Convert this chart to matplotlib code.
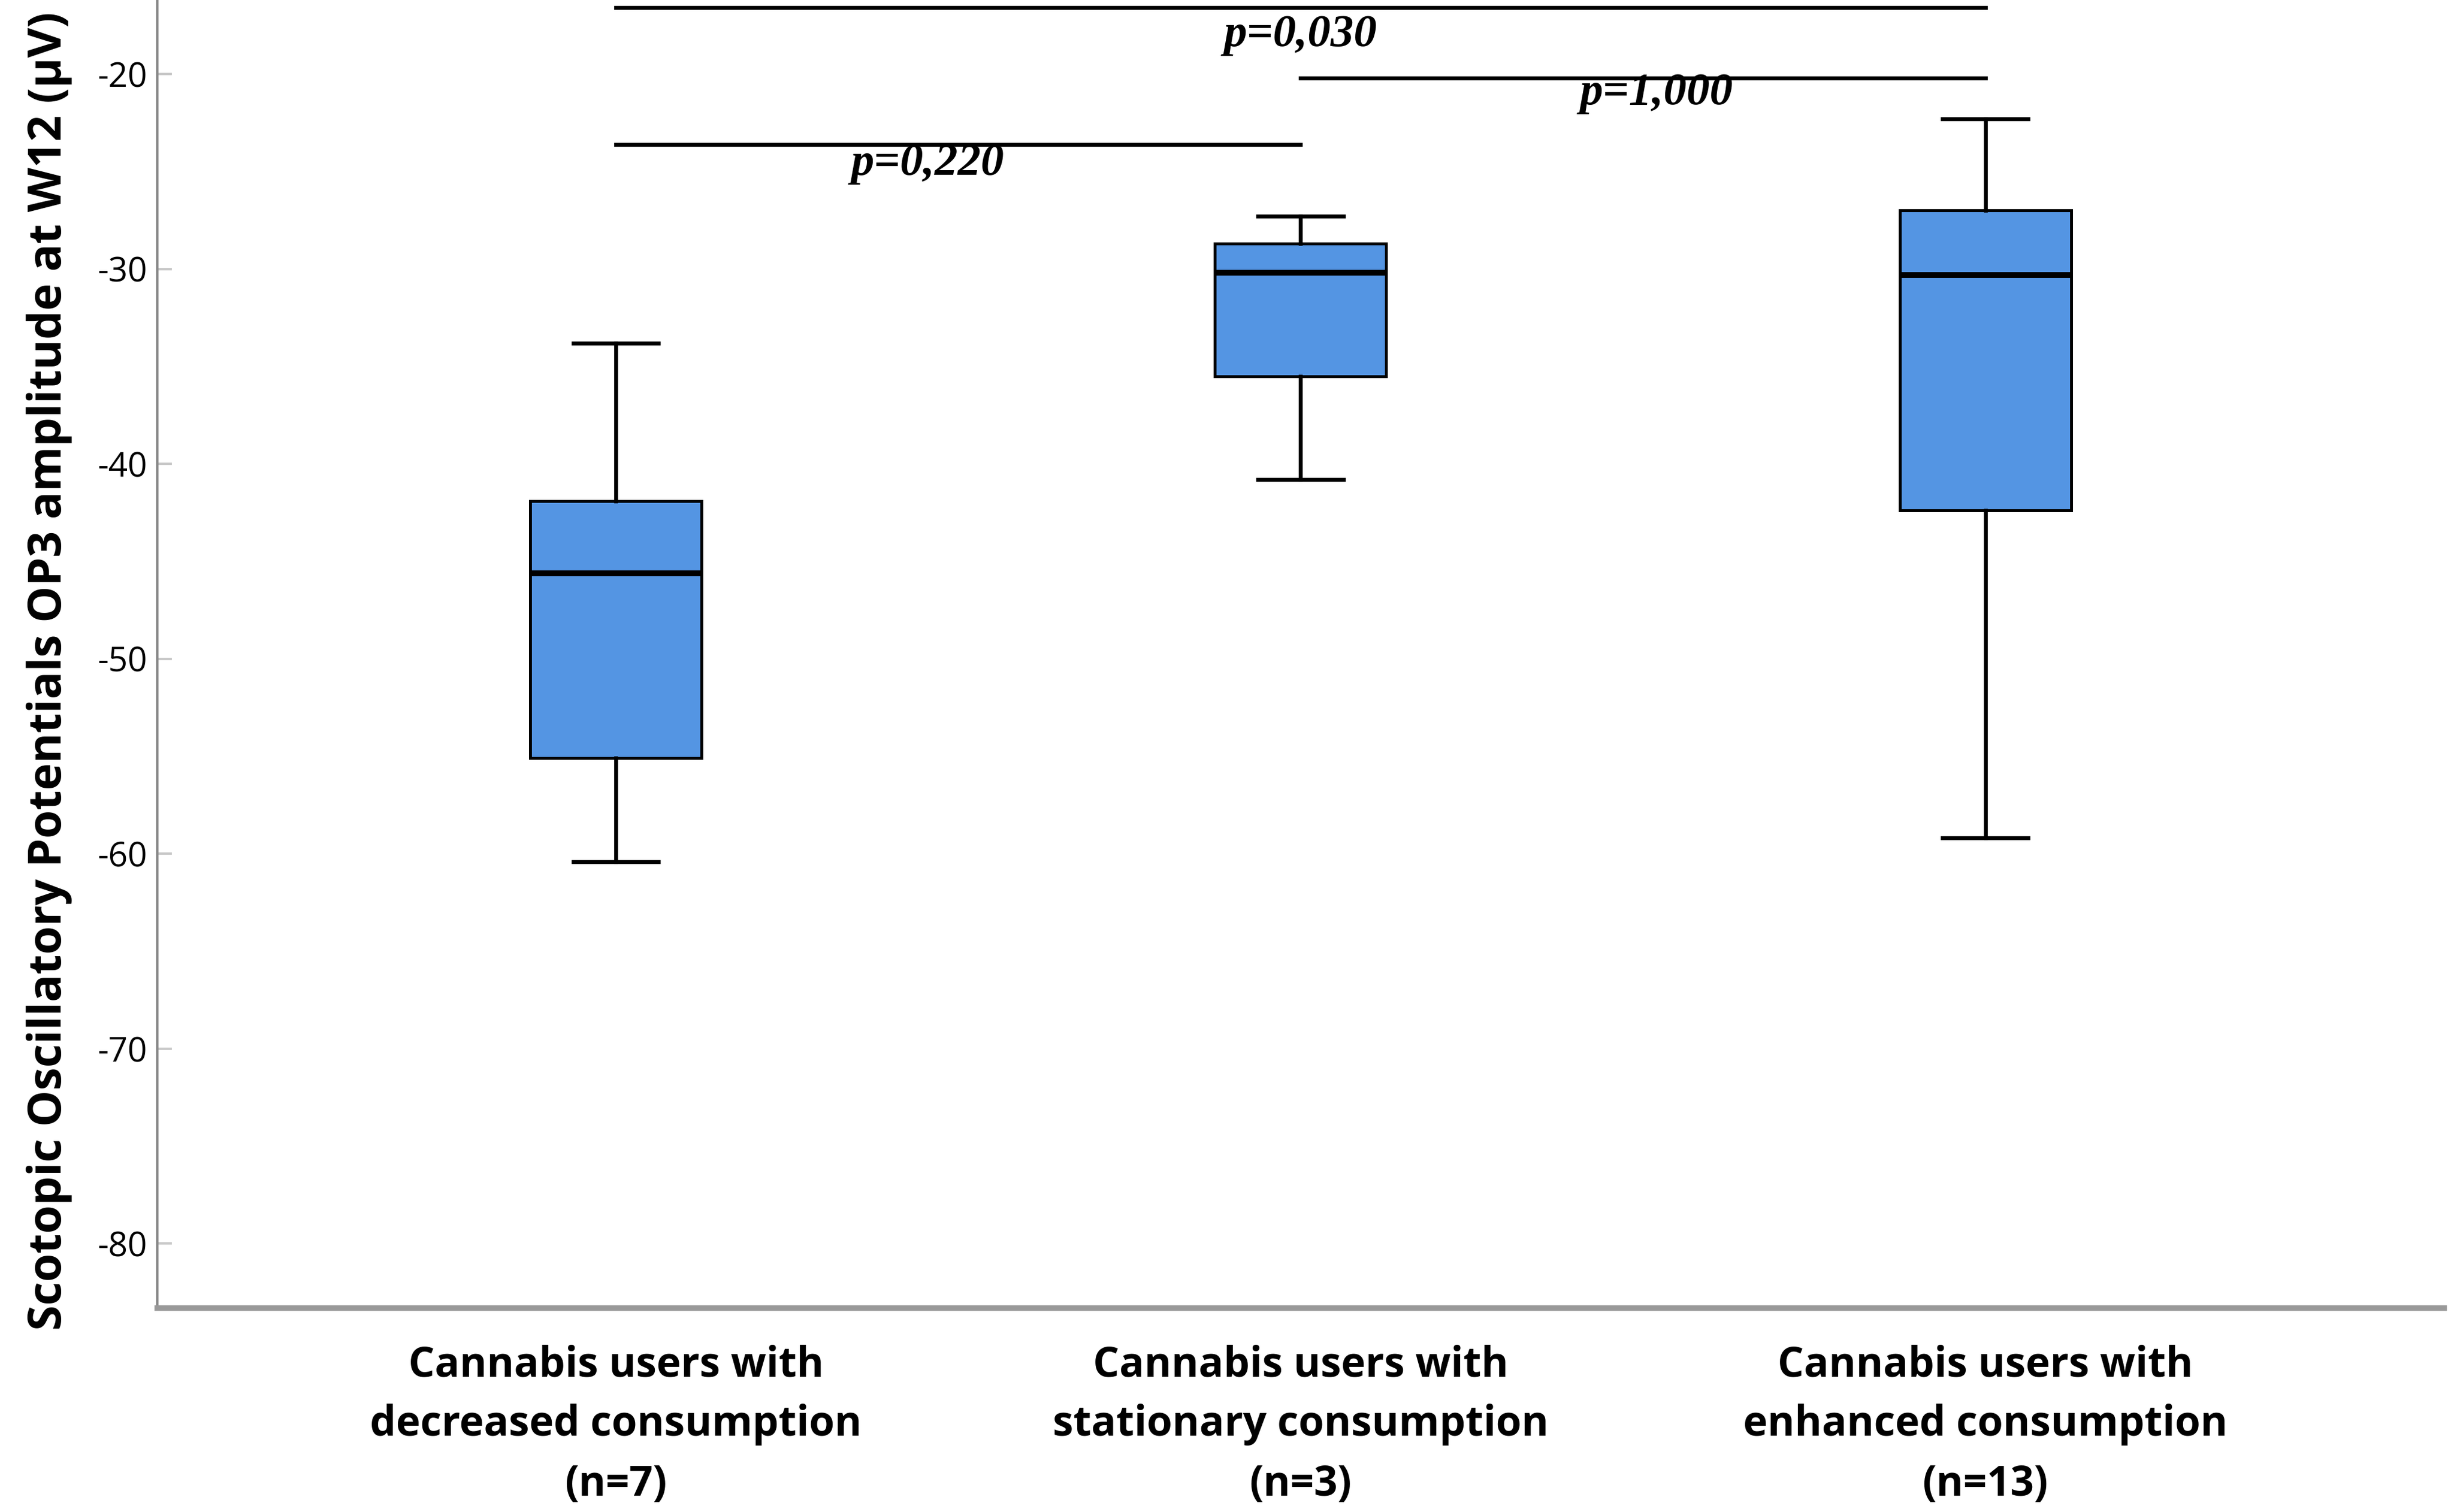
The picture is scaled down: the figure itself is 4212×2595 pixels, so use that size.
"""
Boxplot of scotopic OP3 amplitude at W12 for three cannabis consumption groups,
with pairwise p-value brackets.
"""
import matplotlib
matplotlib.use("Agg")
import matplotlib.pyplot as plt

# --- data ------------------------------------------------------------------
groups = [
    "Cannabis users with\ndecreased consumption\n(n=7)",
    "Cannabis users with\nstationary consumption\n(n=3)",
    "Cannabis users with\nenhanced consumption\n(n=13)",
]
whisker_low = [-60.4, -40.8, -59.2]
q1 = [-55.1, -35.5, -42.4]
median = [-45.6, -30.2, -30.3]
q3 = [-41.9, -28.7, -27.0]
whisker_high = [-33.8, -27.3, -22.3]

# pairwise comparisons
pair_a = [1, 2, 1]
pair_b = [3, 3, 2]
bracket_y = [-16.6, -20.2, -23.6]
p_labels = ["p=0,030", "p=1,000", "p=0,220"]
p_label_x = [2.0, 2.52, 1.455]
p_label_y = [-18.0, -21.0, -24.6]

yticks = [-20, -30, -40, -50, -60, -70, -80]

BOX_COLOR = "#5495e3"


def main():
    plt.rcParams["font.family"] = ["Open Sans", "DejaVu Sans"]

    fig = plt.figure(figsize=(14.04, 8.65), dpi=300)
    ax = fig.add_axes([0.064, 0.135, 0.932, 0.865])

    stats = []
    for i in range(len(groups)):
        stats.append({
            "whislo": whisker_low[i], "q1": q1[i], "med": median[i],
            "q3": q3[i], "whishi": whisker_high[i], "fliers": [],
        })

    positions = list(range(1, len(groups) + 1))
    ax.bxp(
        stats, positions=positions, widths=0.25, patch_artist=True,
        showfliers=False,
        boxprops=dict(facecolor=BOX_COLOR, edgecolor="black", linewidth=1.2),
        medianprops=dict(color="black", linewidth=2.4),
        whiskerprops=dict(color="black", linewidth=1.6),
        capprops=dict(color="black", linewidth=1.6),
        capwidths=0.125,
    )

    for a, b, y, label, lx, ly in zip(pair_a, pair_b, bracket_y,
                                      p_labels, p_label_x, p_label_y):
        ax.plot([a, b], [y, y], color="black", linewidth=1.6)
        ax.text(lx, ly, label, ha="center", va="center", fontsize=19,
                family="Liberation Serif", fontweight="bold", style="italic")

    ax.set_xlim(0.33, 3.67)
    ax.set_ylim(-83.3, -16.2)
    ax.set_xticks(positions)
    ax.set_xticklabels(groups, fontsize=17, fontweight="bold", linespacing=1.55)
    ax.set_yticks(yticks)
    ax.set_yticklabels([str(v) for v in yticks], fontsize=14)

    ax.tick_params(axis="x", length=0, pad=15)
    ax.tick_params(axis="y", direction="in", length=6, width=1,
                   color="#c8c8c8", pad=4)

    ax.set_ylabel("Scotopic Oscillatory Potentials OP3 amplitude at W12 (µV)",
                  fontsize=18.9, fontweight="bold")
    ax.yaxis.set_label_coords(-0.037, 0.487)

    for side in ("top", "right"):
        ax.spines[side].set_visible(False)
    ax.spines["left"].set_color("#888888")
    ax.spines["left"].set_linewidth(1.0)
    ax.spines["bottom"].set_color("#999999")
    ax.spines["bottom"].set_linewidth(2.3)

    fig.savefig("out.png", dpi=300)


if __name__ == "__main__":
    main()
